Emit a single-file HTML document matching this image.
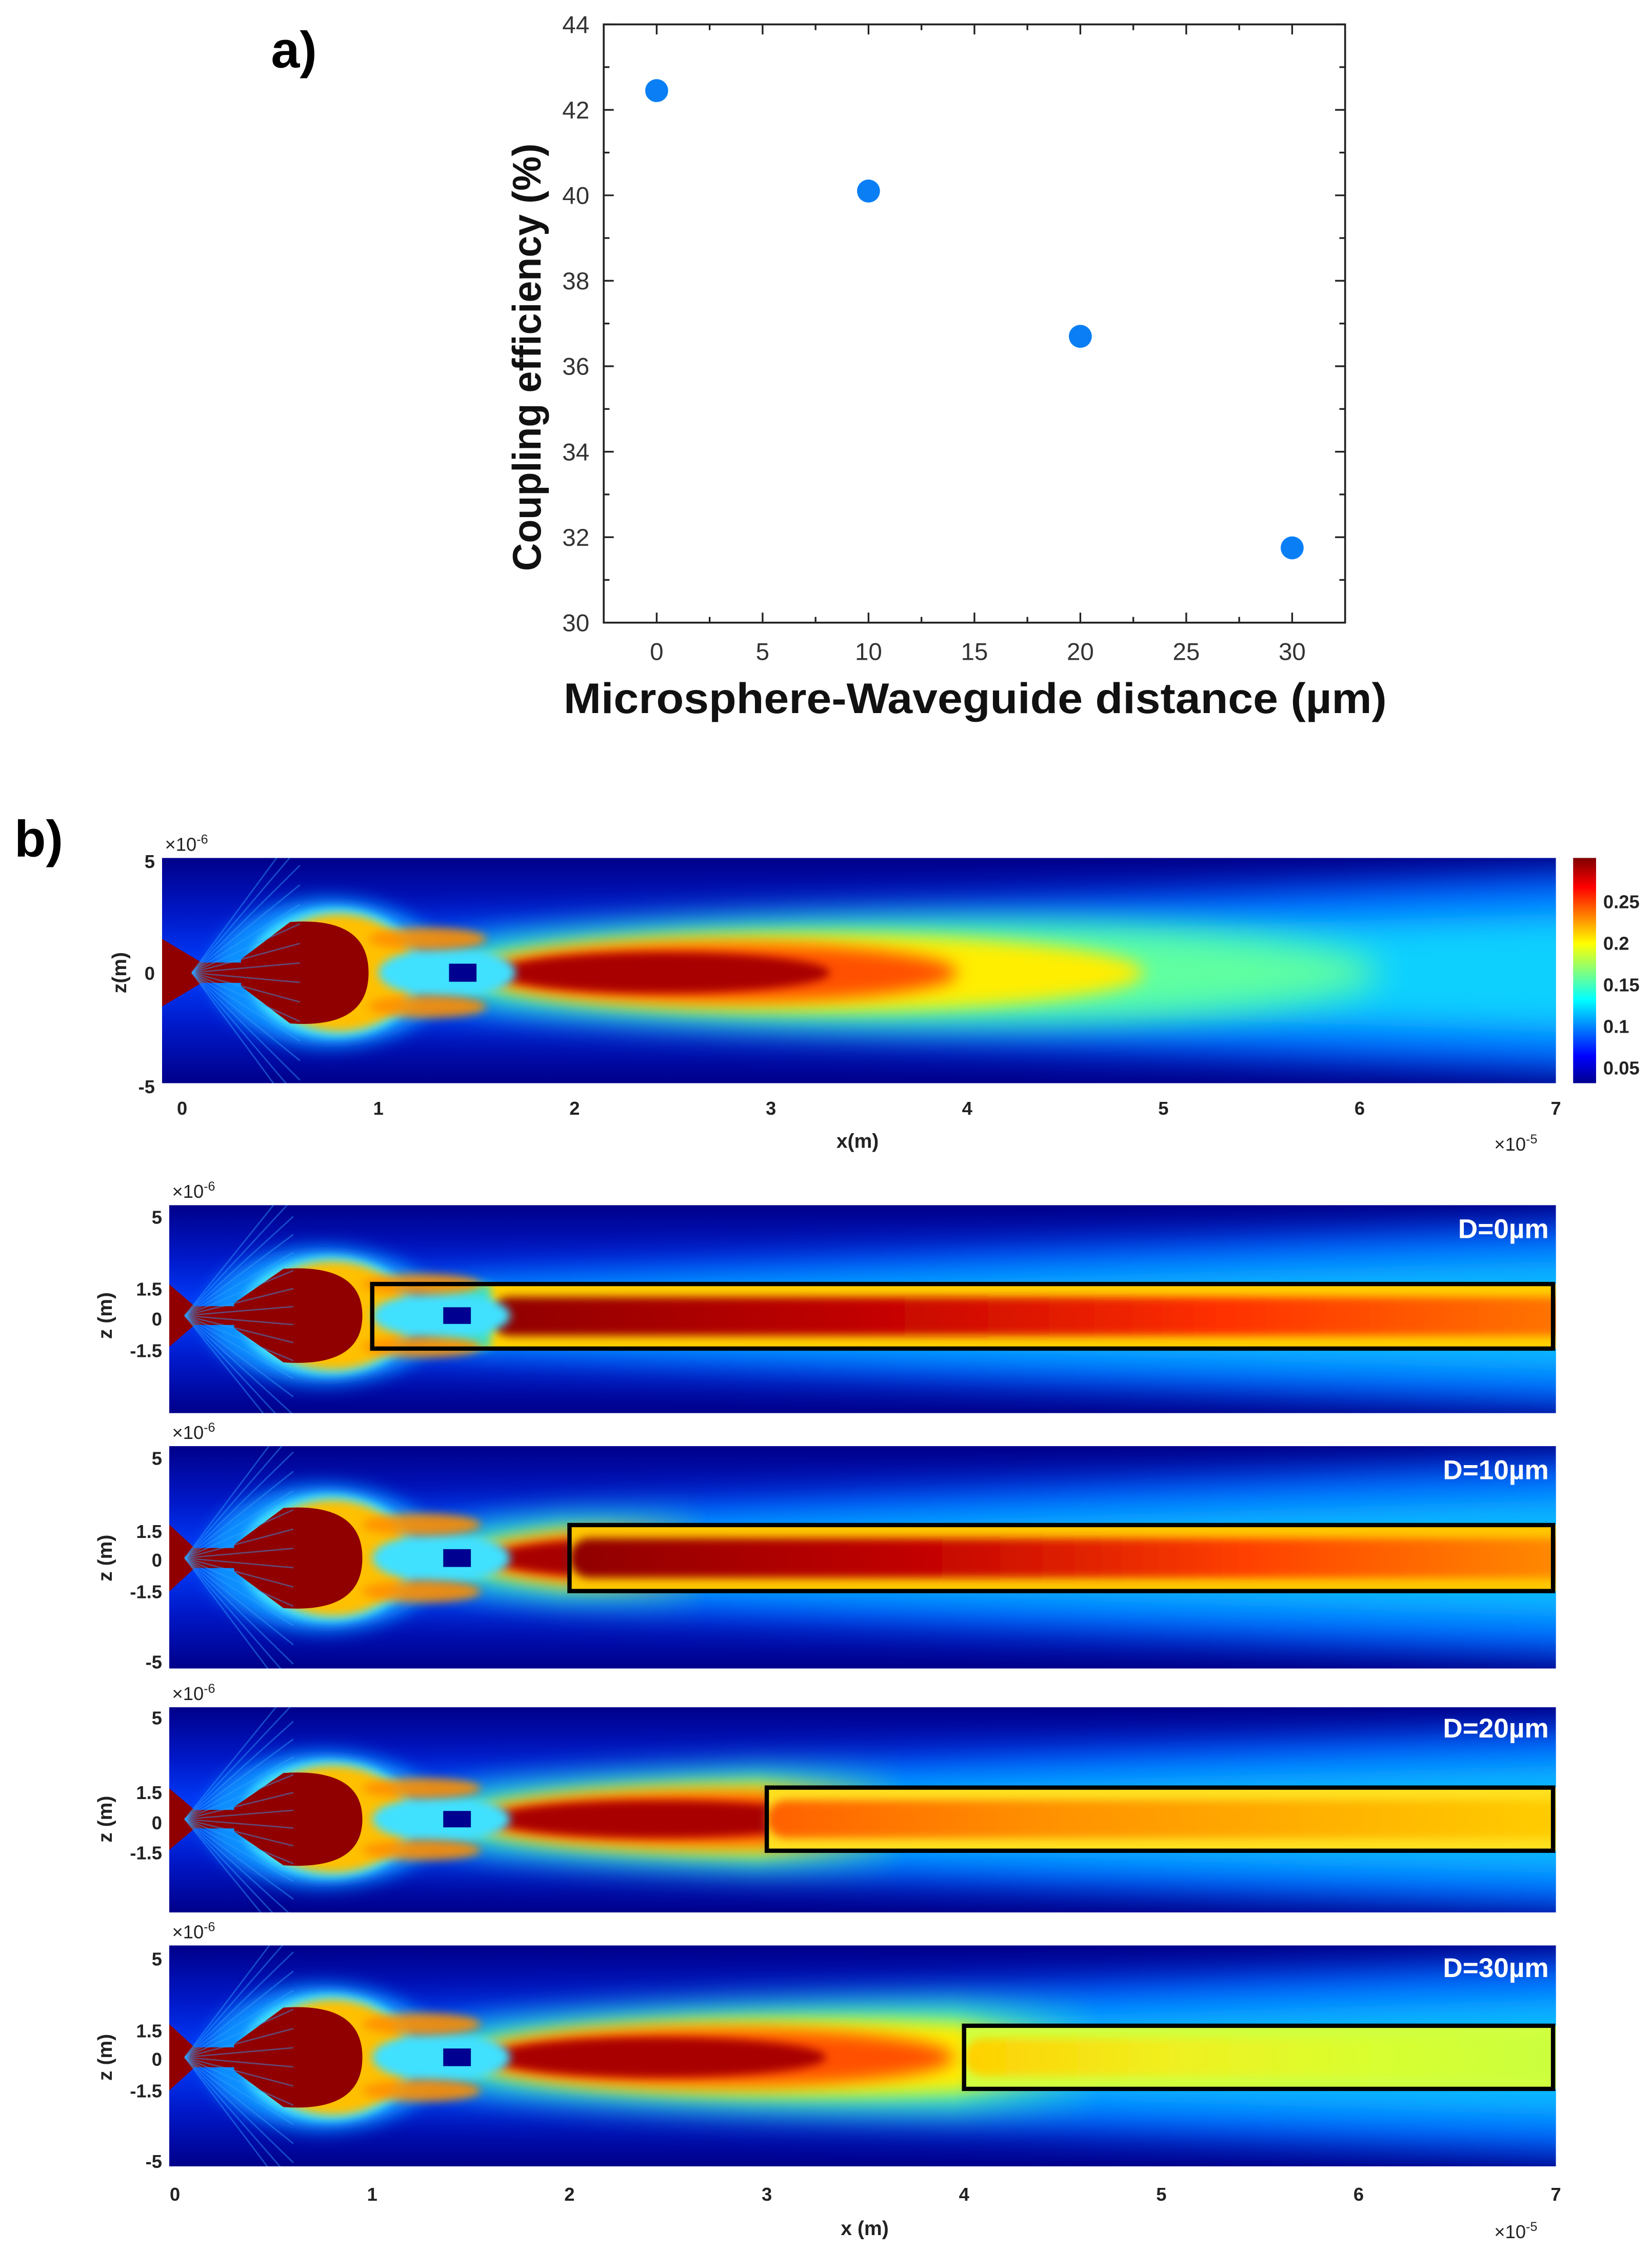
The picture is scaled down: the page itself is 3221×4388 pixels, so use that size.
<!DOCTYPE html>
<html><head><meta charset="utf-8"><style>
html,body{margin:0;padding:0;background:#fff;}
svg{display:block;font-family:"Liberation Sans",Arial,sans-serif;}
</style></head><body>
<svg id="fig" xmlns="http://www.w3.org/2000/svg" width="3221" height="4388" viewBox="0 0 1152 1569" preserveAspectRatio="none">
<defs>
<filter id="b3" x="-50%" y="-50%" width="200%" height="200%"><feGaussianBlur stdDeviation="3"/></filter>
<filter id="b6" x="-50%" y="-50%" width="200%" height="200%"><feGaussianBlur stdDeviation="6"/></filter>
<filter id="b12" x="-50%" y="-50%" width="200%" height="200%"><feGaussianBlur stdDeviation="12"/></filter>
<linearGradient id="cbar" x1="0" y1="1" x2="0" y2="0">
<stop offset="0" stop-color="#00008f"/><stop offset="0.12" stop-color="#0000ff"/><stop offset="0.37" stop-color="#00ffff"/><stop offset="0.62" stop-color="#ffff00"/><stop offset="0.87" stop-color="#ff0000"/><stop offset="1" stop-color="#800000"/>
</linearGradient>
</defs>
<text x="205" y="47" font-size="36" font-weight="bold" text-anchor="middle">a)</text>
<text x="27" y="597" font-size="36" font-weight="bold" text-anchor="middle">b)</text>
<g id="scatter"></g>
<g id="maps"></g>
</svg>
<script>
// ---- scatter data ----
const distances = [0, 10, 20, 30];
const efficiencies = [42.45, 40.1, 36.7, 31.75];
const xTicks = [0, 5, 10, 15, 20, 25, 30];
const yTicks = [30, 32, 34, 36, 38, 40, 42, 44];

const NS = 'http://www.w3.org/2000/svg';
function mk(tag, parent) { const e = document.createElementNS(NS, tag); parent.appendChild(e); return e; }
function set(e, o) { for (const k in o) e.setAttribute(k, o[k]); return e; }

const sc = document.getElementById('scatter');
const L = 421, R = 938, T = 17, B = 434;
const xmin = -2.5, xmax = 32.5, ymin = 30, ymax = 44;
function sx(v) { return L + (v - xmin) / (xmax - xmin) * (R - L); }
function sy(v) { return B - (v - ymin) / (ymax - ymin) * (B - T); }

const frame = mk('rect', sc);
set(frame, {x: L, y: T, width: R - L, height: B - T, fill: 'none', stroke: '#222', 'stroke-width': 1.3});



for (let v = 0; v <= 30; v += 2.5) {
  const major = v % 5 === 0;
  const len = major ? 7 : 4;
  for (const [y1, y2] of [[B, B - len], [T, T + len]]) {
    const t = mk('line', sc);
    set(t, {x1: sx(v), x2: sx(v), y1: y1, y2: y2, stroke: '#222', 'stroke-width': 1.2});
    
    
  }
}
xTicks.forEach(v => {
  const t = mk('text', sc);
  set(t, {x: sx(v), y: 460, 'font-size': 17, 'text-anchor': 'middle', fill: '#333'});
  t.textContent = v;
  
  
});
for (let v = 30; v <= 44; v += 1) {
  const major = v % 2 === 0;
  const len = major ? 7 : 4;
  for (const [x1, x2] of [[L, L + len], [R, R - len]]) {
    const t = mk('line', sc);
    set(t, {x1: x1, x2: x2, y1: sy(v), y2: sy(v), stroke: '#222', 'stroke-width': 1.2});
    
    
  }
}
yTicks.forEach(v => {
  const t = mk('text', sc);
  set(t, {x: 411, y: sy(v) + 6, 'font-size': 17, 'text-anchor': 'end', fill: '#333'});
  t.textContent = v;
  
  
});
distances.forEach((d, i) => {
  const c = mk('ellipse', sc);
  set(c, {cx: sx(d), cy: sy(efficiencies[i]), rx: 8, ry: 8, fill: '#0a7ff5'});
  
  
});
const xt = mk('text', sc);
set(xt, {x: 680, y: 497, 'font-size': 30, 'font-weight': 'bold', 'text-anchor': 'middle', fill: '#111', textLength: 574, lengthAdjust: 'spacingAndGlyphs'});
xt.textContent = 'Microsphere-Waveguide distance (\u00b5m)';


const yt = mk('text', sc);
set(yt, {x: 0, y: 0, 'font-size': 28, 'font-weight': 'bold', 'text-anchor': 'middle', fill: '#111', transform: 'translate(377,249) rotate(-90)', textLength: 298, lengthAdjust: 'spacingAndGlyphs'});
yt.textContent = 'Coupling efficiency (%)';



// ---- field maps ----
const maps = document.getElementById('maps');
const defs = document.querySelector('defs');
const panels = [
  {left:113, x0:127, x1:1085, top:598, bot:755, zero:678, box:null, label:null, ticks:[[5,600],[0,678],[-5,757]]},
  {left:118, x0:122, x1:1085, top:840, bot:985, zero:917, box:1, bt:895, bb:940, label:'D=0\u00b5m', ly:863,
   c:['#900000','#c00000','#ff3000','#ff7a00'], e:'#ffd000', ticks:[[5,848],[1.5,898],[0,919],[-1.5,941]]},
  {left:118, x0:122, x1:1085, top:1008, bot:1163, zero:1086, box:2, bt:1063, bb:1109, label:'D=10\u00b5m', ly:1031,
   c:['#900000','#c00000','#ff4000','#ff9000'], e:'#ffc800', ticks:[[5,1016],[1.5,1067],[0,1087],[-1.5,1109],[-5,1158]]},
  {left:118, x0:122, x1:1085, top:1190, bot:1333, zero:1268, box:3, bt:1246, bb:1290, label:'D=20\u00b5m', ly:1211,
   c:['#ff6000','#ff9000','#ffb000','#ffd000'], e:'#ffe020', ticks:[[5,1197],[1.5,1249],[0,1270],[-1.5,1291]]},
  {left:118, x0:122, x1:1085, top:1356, bot:1510, zero:1434, box:4, bt:1412, bb:1456, label:'D=30\u00b5m', ly:1378,
   c:['#ffd000','#f0f020','#d8ff30','#c8ff40'], e:'#d0ff40', ticks:[[5,1365],[1.5,1415],[0,1435],[-1.5,1457],[-5,1506]]}
];

panels.forEach((p, idx) => {
  const g = mk('g', maps);
  
  
  const k = (p.x1 - p.x0) / 7;
  const u = x => p.x0 + x * k;
  const cy = p.zero, h = (p.bot - p.top) / 2;
  const cp = mk('clipPath', defs); cp.id = 'cp' + idx;
  set(mk('rect', cp), {x: p.left, y: p.top, width: p.x1 - p.left, height: p.bot - p.top});
  const inner = mk('g', g); inner.setAttribute('clip-path', 'url(#cp' + idx + ')');
  const vg = mk('linearGradient', defs); vg.id = 'vg' + idx; set(vg, {x1:0,y1:0,x2:0,y2:1});
  [['0','#00008a'],['0.25','#0018c8'],['0.5','#0040ff'],['0.75','#0018c8'],['1','#00008a']].forEach(s => set(mk('stop', vg), {offset:s[0], 'stop-color':s[1]}));
  set(mk('rect', inner), {x:p.left, y:p.top, width:p.x1-p.left, height:p.bot-p.top, fill:'url(#vg'+idx+')'});
  const ell = (cx, rx, ry, fill, f, op, dy) => set(mk('ellipse', inner), {cx:u(cx), cy:cy+(dy||0), rx:rx*k, ry:ry, fill:fill, filter:f?'url(#'+f+')':'', opacity:op||1});
  set(mk('path', inner), {d:`M${u(1)} ${cy-0.35*h} L${u(7.5)} ${cy-0.9*h} L${u(7.5)} ${cy+0.9*h} L${u(1)} ${cy+0.35*h}Z`, fill:'#0070ff', filter:'url(#b12)'});
  set(mk('path', inner), {d:`M${u(1.5)} ${cy-0.2*h} L${u(7.5)} ${cy-0.55*h} L${u(7.5)} ${cy+0.55*h} L${u(1.5)} ${cy+0.2*h}Z`, fill:'#10d0ff', filter:'url(#b12)', opacity: idx===0?1:0.8});
  // free beam (faded out at waveguide entrance)
  const bg = mk('g', inner);
  if (p.box !== null) {
    const mg = mk('linearGradient', defs); mg.id = 'mg' + idx;
    set(mg, {gradientUnits:'userSpaceOnUse', x1:u(p.box)-0.05*k, y1:0, x2:u(p.box)+0.7*k, y2:0});
    set(mk('stop', mg), {offset:0, 'stop-color':'#fff'});
    set(mk('stop', mg), {offset:1, 'stop-color':'#000'});
    const m = mk('mask', defs); m.id = 'mk' + idx;
    set(m, {maskUnits:'userSpaceOnUse', x:p.left, y:p.top, width:p.x1-p.left, height:p.bot-p.top});
    set(mk('rect', m), {x:p.left, y:p.top, width:p.x1-p.left, height:p.bot-p.top, fill:'url(#mg'+idx+')'});
    bg.setAttribute('mask', 'url(#mk' + idx + ')');
  }
  const bell = (cx, rx, ry, fill, f) => set(mk('ellipse', bg), {cx:u(cx), cy:cy, rx:rx*k, ry:ry, fill:fill, filter:'url(#'+f+')'});
  bell(3.7, 2.4, 0.45*h, '#60ffa0', 'b12');
  bell(3.2, 1.7, 0.34*h, '#ffee00', 'b6');
  bell(2.75, 1.2, 0.26*h, '#ff5000', 'b6');
  bell(2.45, 0.85, 0.18*h, '#a80000', 'b3');
  if (p.box !== null) {
    set(mk('rect', inner), {x:u(p.box), y:p.bt, width:u(7)-u(p.box), height:p.bb-p.bt, fill:p.e});
    const hg = mk('linearGradient', defs); hg.id = 'hg' + idx;
    p.c.forEach((c, i) => set(mk('stop', hg), {offset: i/(p.c.length-1), 'stop-color': c}));
    const ih = (p.bb - p.bt);
    set(mk('rect', inner), {x:u(Math.max(p.box,1.6)), y:p.bt+ih*0.2, width:u(7)-u(Math.max(p.box,1.6))+20, height:ih*0.6, rx:ih*0.3, fill:'url(#hg'+idx+')', filter:'url(#b3)'});
    if (p.box < 1.6) {
      set(mk('rect', inner), {x:u(p.box), y:p.bt, width:u(1.6)-u(p.box), height:ih, fill:'#40e0c0', filter:'url(#b3)'});
    }
  }
  ell(0.75, 0.6, 0.66*h, '#1090ff', 'b6');
  ell(0.78, 0.45, 0.58*h, '#40e0ff', 'b3');
  ell(0.8, 0.38, 0.52*h, '#ffc000', 'b3');
  ell(1.35, 0.35, 0.22*h, '#40e0ff', 'b3');
  ell(1.25, 0.3, 0.1*h, '#ff9000', 'b3', 0.9, -0.3*h);
  ell(1.25, 0.3, 0.1*h, '#ff9000', 'b3', 0.9, 0.3*h);
  set(mk('path', inner), {d:`M${u(0.3)} ${cy-0.12*h} L${u(0.55)} ${cy-0.45*h} Q${u(0.95)} ${cy-0.5*h} ${u(0.95)} ${cy} Q${u(0.95)} ${cy+0.5*h} ${u(0.55)} ${cy+0.45*h} L${u(0.3)} ${cy+0.12*h}Z`, fill:'#900000'});
  set(mk('rect', inner), {x:p.left, y:cy-0.09*h, width:u(0.4)-p.left, height:0.18*h, fill:'#900000'});
  set(mk('path', inner), {d:`M${p.left} ${cy-0.3*h} L${u(0.1)} ${cy-0.09*h} L${u(0.1)} ${cy+0.09*h} L${p.left} ${cy+0.3*h}Z`, fill:'#900000'});
  set(mk('rect', inner), {x:u(1.36), y:cy-0.08*h, width:0.14*k, height:0.16*h, fill:'#000090'});
  for (let i = 0; i < 16; i++) {
    const a = (i - 7.5) / 7.5;
    set(mk('line', inner), {x1:u(0.05), y1:cy, x2:u(0.6), y2:cy + a*h*1.3, stroke:'#30a0ff', 'stroke-width':1, opacity:0.45});
  }
  if (p.box !== null) {
    const bx = mk('rect', g);
    set(bx, {x:u(p.box), y:p.bt, width:u(7)-u(p.box)-2, height:p.bb-p.bt, fill:'none', stroke:'#000', 'stroke-width':3});
    
    
    const lab = mk('text', g);
    set(lab, {x:1080, y:p.ly, 'font-size':19, 'font-weight':'bold', fill:'#fff', 'text-anchor':'end'});
    lab.textContent = p.label;
    
    
  }
  p.ticks.forEach(t => {
    const tx = mk('text', g);
    set(tx, {x:p.left-5, y:t[1]+5, 'font-size':13, 'font-weight':'bold', fill:'#222', 'text-anchor':'end'});
    tx.textContent = t[0];
    
    
  });
  const ex = mk('text', g);
  set(ex, {x:p.left+2, y:p.top-5, 'font-size':13, fill:'#222'});
  ex.innerHTML = '\u00d710<tspan dy="-5" font-size="9">-6</tspan>';
  
  
  const zl = mk('text', g);
  set(zl, {x:0, y:0, 'font-size':14, 'font-weight':'bold', fill:'#222', 'text-anchor':'middle', transform:`translate(${idx===0?88:78},${cy}) rotate(-90)`});
  zl.textContent = idx === 0 ? 'z(m)' : 'z (m)';
  
  
  if (idx === 0 || idx === 4) {
    const ty = idx === 0 ? 777 : 1534;
    for (let v = 0; v <= 7; v++) {
      const tx = mk('text', g);
      set(tx, {x:u(v), y:ty, 'font-size':13, 'font-weight':'bold', fill:'#222', 'text-anchor':'middle'});
      tx.textContent = v;
      
      
    }
    const xl = mk('text', g);
    set(xl, {x:idx===0?598:603, y:idx===0?800:1558, 'font-size':14, 'font-weight':'bold', fill:'#222', 'text-anchor':'middle'});
    xl.textContent = idx === 0 ? 'x(m)' : 'x (m)';
    
    
    const e5 = mk('text', g);
    set(e5, {x:1042, y:idx===0?802:1560, 'font-size':13, fill:'#222'});
    e5.innerHTML = '\u00d710<tspan dy="-5" font-size="9">-5</tspan>';
    
    
  }
});

const cbTicks = [0.25, 0.2, 0.15, 0.1, 0.05];
const cbY = [628, 657, 686, 715, 744];
const cb = mk('rect', maps);
set(cb, {x:1097, y:598, width:16, height:157, fill:'url(#cbar)'});


cbTicks.forEach((v, i) => {
  const t = mk('text', maps);
  set(t, {x:1118, y:cbY[i]+5, 'font-size':13, 'font-weight':'bold', fill:'#222'});
  t.textContent = v;
  
  
});
</script>
</body></html>
